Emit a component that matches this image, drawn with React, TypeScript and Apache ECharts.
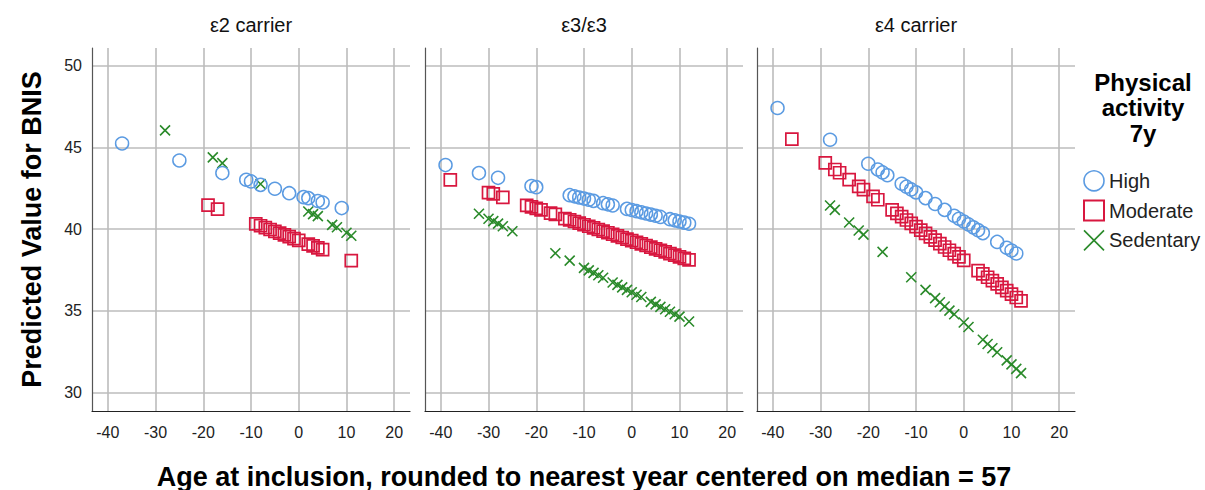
import React, { useEffect, useRef } from 'react';
import * as echarts from 'echarts';

const FONT = '"Liberation Sans", Arial, Helvetica, sans-serif';

const panelTitles = ['ε2 carrier', 'ε3/ε3', 'ε4 carrier'];
const groupNames = ['High', 'Moderate', 'Sedentary'];
const xTicks = [-40, -30, -20, -10, 0, 10, 20];
const yTicks = [30, 35, 40, 45, 50];
const legendTitle = ['Physical', 'activity', '7y'];
const yAxisTitle = 'Predicted Value for BNIS';
const xAxisTitle = 'Age at inclusion, rounded to nearest year centered on median = 57';

// ε2 carrier
const e2High = [[-37, 45.24], [-25, 44.2], [-16, 43.43], [-11, 43.02], [-10, 42.92], [-8, 42.71], [-5, 42.47], [-2, 42.2], [1, 41.96], [2, 41.9], [4, 41.72], [5, 41.63], [9, 41.29]];
const e2Moderate = [[-19, 41.47], [-17, 41.22], [-9, 40.32], [-8, 40.21], [-7, 40.1], [-6, 39.98], [-5, 39.87], [-4, 39.76], [-3, 39.65], [-2, 39.54], [-1, 39.42], [0, 39.31], [2, 39.09], [3, 38.98], [4, 38.86], [5, 38.75], [11, 38.08]];
const e2Sedentary = [[-28, 46.04], [-18, 44.39], [-16, 44.04], [-8, 42.76], [2, 41.08], [3, 40.92], [4, 40.8], [7, 40.26], [8, 40.12], [10, 39.78], [11, 39.6]];

// ε3/ε3
const e33High = [[-39, 43.92], [-32, 43.43], [-28, 43.14], [-21, 42.64], [-20, 42.57], [-13, 42.08], [-12, 42.01], [-11, 41.94], [-10, 41.87], [-9, 41.8], [-8, 41.73], [-6, 41.59], [-5, 41.52], [-4, 41.45], [-1, 41.24], [0, 41.17], [1, 41.1], [2, 41.03], [3, 40.96], [4, 40.89], [5, 40.82], [6, 40.75], [8, 40.61], [9, 40.54], [10, 40.47], [11, 40.4], [12, 40.33]];
const e33Moderate = [[-38, 43.02], [-30, 42.24], [-29, 42.16], [-27, 41.94], [-22, 41.45], [-21, 41.36], [-20, 41.27], [-19, 41.18], [-17, 40.98], [-16, 40.9], [-14, 40.65], [-13, 40.57], [-12, 40.47], [-11, 40.37], [-10, 40.27], [-9, 40.18], [-8, 40.08], [-7, 39.98], [-6, 39.88], [-5, 39.78], [-4, 39.69], [-3, 39.59], [-2, 39.49], [-1, 39.39], [0, 39.3], [1, 39.2], [2, 39.1], [3, 39.0], [4, 38.9], [5, 38.8], [6, 38.71], [7, 38.61], [8, 38.51], [9, 38.41], [10, 38.31], [11, 38.22], [12, 38.12]];
const e33Sedentary = [[-32, 40.94], [-30, 40.64], [-29, 40.49], [-28, 40.34], [-27, 40.18], [-25, 39.87], [-16, 38.53], [-13, 38.08], [-10, 37.63], [-9, 37.48], [-8, 37.33], [-7, 37.18], [-6, 37.03], [-4, 36.74], [-3, 36.59], [-2, 36.44], [-1, 36.29], [0, 36.14], [1, 35.99], [2, 35.85], [4, 35.55], [5, 35.4], [6, 35.25], [7, 35.1], [8, 34.95], [9, 34.8], [10, 34.65], [12, 34.35]];

// ε4 carrier
const e4High = [[-39, 47.41], [-28, 45.47], [-20, 44.0], [-18, 43.65], [-17, 43.47], [-16, 43.3], [-13, 42.78], [-12, 42.6], [-11, 42.43], [-10, 42.25], [-8, 41.9], [-6, 41.54], [-4, 41.18], [-2, 40.82], [-1, 40.64], [0, 40.47], [1, 40.29], [2, 40.11], [3, 39.94], [4, 39.76], [7, 39.22], [9, 38.86], [10, 38.69], [11, 38.51]];
const e4Moderate = [[-36, 45.51], [-29, 44.06], [-27, 43.65], [-26, 43.45], [-24, 43.03], [-22, 42.62], [-21, 42.42], [-19, 42.0], [-18, 41.8], [-15, 41.18], [-14, 40.97], [-13, 40.77], [-12, 40.56], [-11, 40.36], [-10, 40.15], [-9, 39.94], [-8, 39.74], [-7, 39.53], [-6, 39.33], [-5, 39.12], [-4, 38.91], [-3, 38.71], [-2, 38.5], [-1, 38.3], [0, 38.09], [3, 37.47], [4, 37.27], [5, 37.06], [6, 36.85], [7, 36.65], [8, 36.44], [9, 36.24], [10, 36.03], [11, 35.82], [12, 35.62]];
const e4Sedentary = [[-28, 41.45], [-27, 41.18], [-24, 40.41], [-22, 39.92], [-21, 39.67], [-17, 38.61], [-11, 37.06], [-8, 36.29], [-6, 35.78], [-5, 35.53], [-4, 35.27], [-3, 35.02], [-2, 34.8], [0, 34.29], [1, 34.02], [4, 33.24], [5, 32.98], [6, 32.72], [7, 32.47], [9, 31.98], [10, 31.73], [11, 31.46], [12, 31.2]];

const panelData = [
  [e2High, e2Moderate, e2Sedentary],
  [e33High, e33Moderate, e33Sedentary],
  [e4High, e4Moderate, e4Sedentary],
];

const BLUE = '#5b9be2';
const RED = '#d8173f';
const GREEN = '#2a8a2a';
const CROSS = 'path://M0,0L10,10M10,0L0,10';
const symbols = [
  { symbol: 'circle', size: 13, color: BLUE, width: 1.5 },
  { symbol: 'rect', size: 12, color: RED, width: 1.7 },
  { symbol: CROSS, size: 10, color: GREEN, width: 1.6 },
];

const gridLefts = [92, 425, 757];
const GRID_W = 318;
const GRID_TOP = 48;
const GRID_H = 363;
const X_MIN = -43.3, X_MAX = 23.3;
const Y_MIN = 28.88, Y_MAX = 51.08;
const GRID_COLOR = '#bcbcbc';

export default function App() {
  const ref = useRef<HTMLDivElement>(null);
  useEffect(() => {
    if (!ref.current) return;
    const chart = echarts.init(ref.current, undefined, { renderer: 'svg' });

    const grids = gridLefts.map((l) => ({
      left: l,
      top: GRID_TOP,
      width: GRID_W,
      height: GRID_H,
      containLabel: false,
      outerBoundsMode: 'none',
    }));

    const xAxes = gridLefts.map((_, i) => ({
      gridIndex: i,
      type: 'value',
      min: X_MIN,
      max: X_MAX,
      name: i === 1 ? xAxisTitle : '',
      nameLocation: 'middle',
      nameGap: 52,
      nameTextStyle: { fontSize: 27, fontWeight: 'bold', color: '#000', fontFamily: FONT },
      axisLine: { show: true, onZero: false, lineStyle: { color: '#222', width: 1.2 } },
      axisTick: { show: false, customValues: xTicks },
      axisLabel: { customValues: xTicks, fontSize: 16, color: '#222', margin: 13, fontFamily: FONT },
      splitLine: { show: true, lineStyle: { color: GRID_COLOR, width: 1.6 } },
    }));

    const yAxes = gridLefts.map((_, i) => ({
      gridIndex: i,
      type: 'value',
      min: Y_MIN,
      max: Y_MAX,
      name: i === 0 ? yAxisTitle : '',
      nameLocation: 'middle',
      nameGap: 47,
      nameTextStyle: { fontSize: 27, fontWeight: 'bold', color: '#000', fontFamily: FONT },
      axisLine: { show: true, onZero: false, lineStyle: { color: '#555', width: 1.2 } },
      axisTick: { show: false, customValues: yTicks },
      axisLabel: {
        show: true,
        customValues: yTicks,
        fontSize: 16,
        color: '#222',
        margin: 10,
        fontFamily: FONT,
        formatter: i === 0 ? (v: number) => String(v) : () => '',
      },
      splitLine: { show: true, lineStyle: { color: GRID_COLOR, width: 1.6 } },
    }));

    const series: any[] = [];
    panelData.forEach((groups, p) => {
      groups.forEach((data, g) => {
        const s = symbols[g];
        series.push({
          type: 'scatter',
          name: groupNames[g],
          xAxisIndex: p,
          yAxisIndex: p,
          data,
          symbol: s.symbol,
          symbolSize: s.size,
          itemStyle: { color: 'rgba(0,0,0,0)', borderColor: s.color, borderWidth: s.width, opacity: 1 },
          z: 3 - g,
        });
      });
    });

    const graphics: any[] = [];
    panelTitles.forEach((t, i) => {
      graphics.push({
        type: 'text',
        x: gridLefts[i] + GRID_W / 2,
        y: 25,
        style: { text: t, font: `20px ${FONT}`, fill: '#111', textAlign: 'center', textVerticalAlign: 'middle' },
      });
    });
    legendTitle.forEach((t, i) => {
      graphics.push({
        type: 'text',
        x: 1143,
        y: 82 + i * 25.5,
        style: { text: t, font: `bold 24px ${FONT}`, fill: '#000', textAlign: 'center', textVerticalAlign: 'middle' },
      });
    });

    chart.setOption({
      animation: false,
      backgroundColor: '#fff',
      grid: grids,
      xAxis: xAxes,
      yAxis: yAxes,
      legend: {
        orient: 'vertical',
        left: 1083,
        top: 170,
        padding: 0,
        itemWidth: 20,
        itemHeight: 20,
        itemGap: 8,
        selectedMode: false,
        textStyle: { fontSize: 20, color: '#222', fontFamily: FONT },
        data: groupNames.map((n, g) => ({
          name: n,
          icon: symbols[g].symbol,
          itemStyle: { color: 'rgba(0,0,0,0)', borderColor: symbols[g].color, borderWidth: g === 1 ? 2 : 1.6 },
        })),
      },
      graphic: graphics,
      series,
    });

    return () => chart.dispose();
  }, []);

  return <div ref={ref} style={{ position: 'absolute', left: 0, top: 0, width: 1205, height: 490 }} />;
}
